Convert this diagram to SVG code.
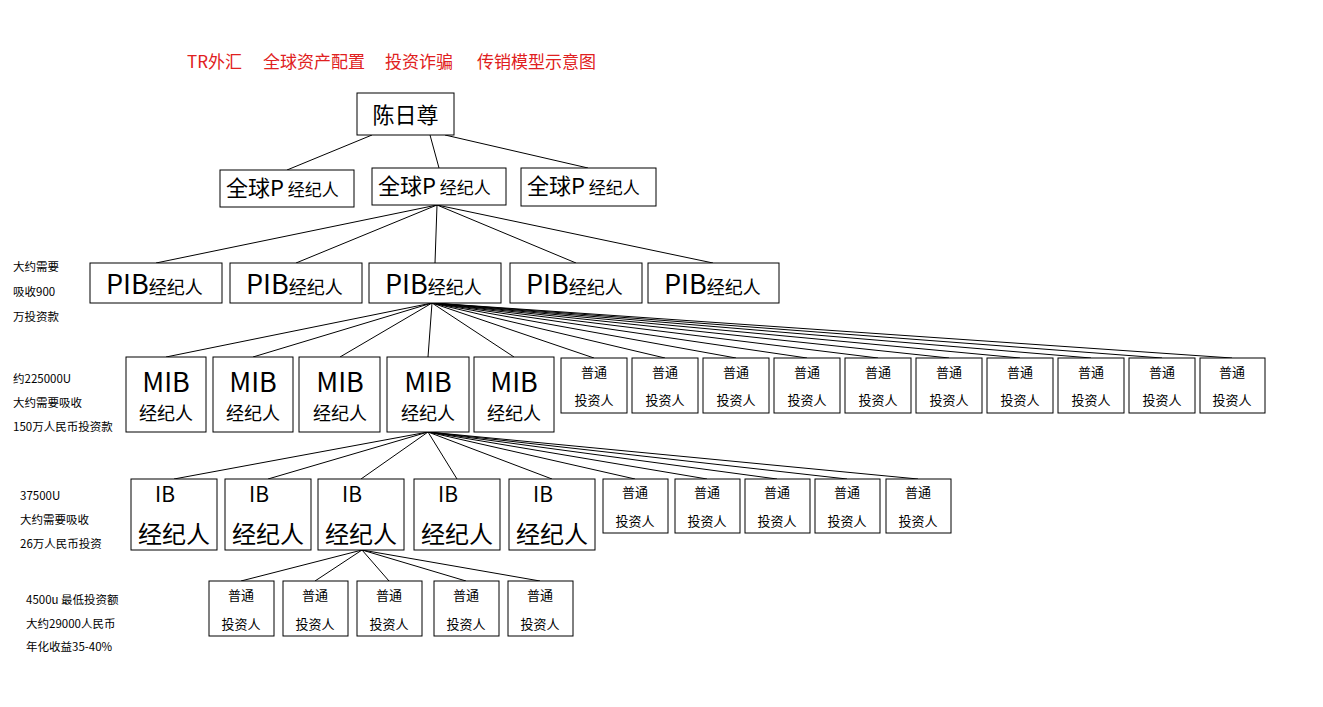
<svg xmlns="http://www.w3.org/2000/svg" width="1323" height="707" viewBox="0 0 1323 707">
<style>
rect{fill:#fff;stroke:#000;stroke-width:1}
text{font-family:"Microsoft YaHei","Noto Sans CJK SC",sans-serif;fill:#000}
.s{font-size:13px;text-anchor:middle}
.a{font-size:11.5px}
.big{font-size:27px}
.med{font-size:18px}
.t{fill:#e02020;font-size:17px}
line{stroke:#000;stroke-width:1}
</style>
<rect x="0" y="0" width="1323" height="707" style="stroke:none"/>
<g id="title">
<text class="t" x="187" y="68">TR外汇</text><text class="t" x="263" y="68">全球资产配置</text><text class="t" x="385" y="68">投资诈骗</text><text class="t" x="477" y="68">传销模型示意图</text>
</g>
<g id="edges">
<line x1="372" y1="135" x2="287" y2="170"/><line x1="430" y1="135" x2="439" y2="168"/><line x1="445" y1="135" x2="588" y2="168"/>
<line x1="437" y1="205" x2="156" y2="263"/><line x1="437" y1="205" x2="296" y2="263"/><line x1="437" y1="205" x2="435" y2="263"/><line x1="437" y1="205" x2="576" y2="263"/><line x1="437" y1="205" x2="713" y2="263"/>
<g>
<line x1="432" y1="303" x2="166" y2="357"/><line x1="432" y1="303" x2="253" y2="357"/><line x1="432" y1="303" x2="340" y2="357"/><line x1="432" y1="303" x2="428" y2="357"/><line x1="432" y1="303" x2="514" y2="357"/>
<line x1="432" y1="303" x2="594" y2="358"/><line x1="432" y1="303" x2="665" y2="358"/><line x1="432" y1="303" x2="736" y2="358"/><line x1="432" y1="303" x2="807" y2="358"/><line x1="432" y1="303" x2="878" y2="358"/><line x1="432" y1="303" x2="949" y2="358"/><line x1="432" y1="303" x2="1020" y2="358"/><line x1="432" y1="303" x2="1091" y2="358"/><line x1="432" y1="303" x2="1162" y2="358"/><line x1="432" y1="303" x2="1232" y2="358"/>
</g>
<g>
<line x1="428" y1="432" x2="174" y2="479"/><line x1="428" y1="432" x2="268" y2="479"/><line x1="428" y1="432" x2="361" y2="479"/><line x1="428" y1="432" x2="457" y2="479"/><line x1="428" y1="432" x2="552" y2="479"/>
<line x1="428" y1="432" x2="635" y2="479"/><line x1="428" y1="432" x2="707" y2="479"/><line x1="428" y1="432" x2="777" y2="479"/><line x1="428" y1="432" x2="847" y2="479"/><line x1="428" y1="432" x2="918" y2="479"/>
</g>
<g>
<line x1="362" y1="550" x2="241" y2="581"/><line x1="362" y1="550" x2="315" y2="581"/><line x1="362" y1="550" x2="389" y2="581"/><line x1="362" y1="550" x2="466" y2="581"/><line x1="362" y1="550" x2="540" y2="581"/>
</g>
</g>
<g id="root"><rect x="357" y="93" width="97" height="42"/><text x="405.5" y="123" style="font-size:22px;text-anchor:middle">陈日尊</text></g>
<g id="p1"><rect x="220" y="170" width="134" height="37"/><text x="226" y="196"><tspan style="font-size:22px">全球P</tspan><tspan style="font-size:17px"> 经纪人</tspan></text></g>
<g id="p2"><rect x="372" y="168" width="134" height="37"/><text x="378" y="194"><tspan style="font-size:22px">全球P</tspan><tspan style="font-size:17px"> 经纪人</tspan></text></g>
<g id="p3"><rect x="521" y="168" width="135" height="38"/><text x="527" y="194"><tspan style="font-size:22px">全球P</tspan><tspan style="font-size:17px"> 经纪人</tspan></text></g>
<g id="pib">
<rect x="90" y="263" width="132" height="40"/><text x="106" y="294"><tspan class="big">PIB</tspan><tspan class="med">经纪人</tspan></text>
<rect x="230" y="263" width="132" height="40"/><text x="246" y="294"><tspan class="big">PIB</tspan><tspan class="med">经纪人</tspan></text>
<rect x="369" y="263" width="132" height="40"/><text x="385" y="294"><tspan class="big">PIB</tspan><tspan class="med">经纪人</tspan></text>
<rect x="510" y="263" width="132" height="40"/><text x="526" y="294"><tspan class="big">PIB</tspan><tspan class="med">经纪人</tspan></text>
<rect x="648" y="263" width="131" height="40"/><text x="664" y="294"><tspan class="big">PIB</tspan><tspan class="med">经纪人</tspan></text>
</g>
<g id="mib">
<rect x="126" y="357" width="80" height="75"/><text x="166" y="392" style="font-size:27px;text-anchor:middle">MIB</text><text x="166" y="420" style="font-size:18px;text-anchor:middle">经纪人</text>
<rect x="213" y="357" width="80" height="75"/><text x="253" y="392" style="font-size:27px;text-anchor:middle">MIB</text><text x="253" y="420" style="font-size:18px;text-anchor:middle">经纪人</text>
<rect x="299" y="357" width="81" height="75"/><text x="340" y="392" style="font-size:27px;text-anchor:middle">MIB</text><text x="340" y="420" style="font-size:18px;text-anchor:middle">经纪人</text>
<rect x="387" y="357" width="82" height="75"/><text x="428" y="392" style="font-size:27px;text-anchor:middle">MIB</text><text x="428" y="420" style="font-size:18px;text-anchor:middle">经纪人</text>
<rect x="474" y="357" width="80" height="75"/><text x="514" y="392" style="font-size:27px;text-anchor:middle">MIB</text><text x="514" y="420" style="font-size:18px;text-anchor:middle">经纪人</text>
</g>
<g id="inv4">
<rect x="561" y="358" width="66" height="55"/><text class="s" x="594" y="377">普通</text><text class="s" x="594" y="405">投资人</text>
<rect x="632" y="358" width="66" height="55"/><text class="s" x="665" y="377">普通</text><text class="s" x="665" y="405">投资人</text>
<rect x="703" y="358" width="66" height="55"/><text class="s" x="736" y="377">普通</text><text class="s" x="736" y="405">投资人</text>
<rect x="774" y="358" width="66" height="55"/><text class="s" x="807" y="377">普通</text><text class="s" x="807" y="405">投资人</text>
<rect x="845" y="358" width="66" height="55"/><text class="s" x="878" y="377">普通</text><text class="s" x="878" y="405">投资人</text>
<rect x="916" y="358" width="66" height="55"/><text class="s" x="949" y="377">普通</text><text class="s" x="949" y="405">投资人</text>
<rect x="987" y="358" width="66" height="55"/><text class="s" x="1020" y="377">普通</text><text class="s" x="1020" y="405">投资人</text>
<rect x="1058" y="358" width="66" height="55"/><text class="s" x="1091" y="377">普通</text><text class="s" x="1091" y="405">投资人</text>
<rect x="1129" y="358" width="66" height="55"/><text class="s" x="1162" y="377">普通</text><text class="s" x="1162" y="405">投资人</text>
<rect x="1200" y="358" width="65" height="55"/><text class="s" x="1232" y="377">普通</text><text class="s" x="1232" y="405">投资人</text>
</g>
<g id="ib">
<rect x="131" y="479" width="86" height="71"/><text x="155" y="502" style="font-size:21px">IB</text><text x="174" y="543" style="font-size:24px;text-anchor:middle">经纪人</text>
<rect x="225" y="479" width="86" height="71"/><text x="249" y="502" style="font-size:21px">IB</text><text x="268" y="543" style="font-size:24px;text-anchor:middle">经纪人</text>
<rect x="318" y="479" width="86" height="71"/><text x="342" y="502" style="font-size:21px">IB</text><text x="361" y="543" style="font-size:24px;text-anchor:middle">经纪人</text>
<rect x="414" y="479" width="86" height="71"/><text x="438" y="502" style="font-size:21px">IB</text><text x="457" y="543" style="font-size:24px;text-anchor:middle">经纪人</text>
<rect x="509" y="479" width="86" height="71"/><text x="533" y="502" style="font-size:21px">IB</text><text x="552" y="543" style="font-size:24px;text-anchor:middle">经纪人</text>
</g>
<g id="inv5">
<rect x="603" y="479" width="65" height="54"/><text class="s" x="635" y="497">普通</text><text class="s" x="635" y="526">投资人</text>
<rect x="675" y="479" width="65" height="54"/><text class="s" x="707" y="497">普通</text><text class="s" x="707" y="526">投资人</text>
<rect x="745" y="479" width="65" height="54"/><text class="s" x="777" y="497">普通</text><text class="s" x="777" y="526">投资人</text>
<rect x="815" y="479" width="65" height="54"/><text class="s" x="847" y="497">普通</text><text class="s" x="847" y="526">投资人</text>
<rect x="886" y="479" width="65" height="54"/><text class="s" x="918" y="497">普通</text><text class="s" x="918" y="526">投资人</text>
</g>
<g id="inv6">
<rect x="209" y="581" width="65" height="55"/><text class="s" x="241" y="600">普通</text><text class="s" x="241" y="629">投资人</text>
<rect x="283" y="581" width="65" height="55"/><text class="s" x="315" y="600">普通</text><text class="s" x="315" y="629">投资人</text>
<rect x="357" y="581" width="65" height="55"/><text class="s" x="389" y="600">普通</text><text class="s" x="389" y="629">投资人</text>
<rect x="434" y="581" width="65" height="55"/><text class="s" x="466" y="600">普通</text><text class="s" x="466" y="629">投资人</text>
<rect x="508" y="581" width="65" height="55"/><text class="s" x="540" y="600">普通</text><text class="s" x="540" y="629">投资人</text>
</g>
<g id="notes">
<text class="a" x="13" y="271">大约需要</text><text class="a" x="13" y="296">吸收900</text><text class="a" x="13" y="321">万投资款</text>
<text class="a" x="13" y="383">约225000U</text><text class="a" x="13" y="407">大约需要吸收</text><text class="a" x="13" y="431">150万人民币投资款</text>
<text class="a" x="20" y="500">37500U</text><text class="a" x="20" y="524">大约需要吸收</text><text class="a" x="20" y="548">26万人民币投资</text>
<text class="a" x="26" y="604">4500u 最低投资额</text><text class="a" x="26" y="628">大约29000人民币</text><text class="a" x="26" y="651">年化收益35-40%</text>
</g>
</svg>
